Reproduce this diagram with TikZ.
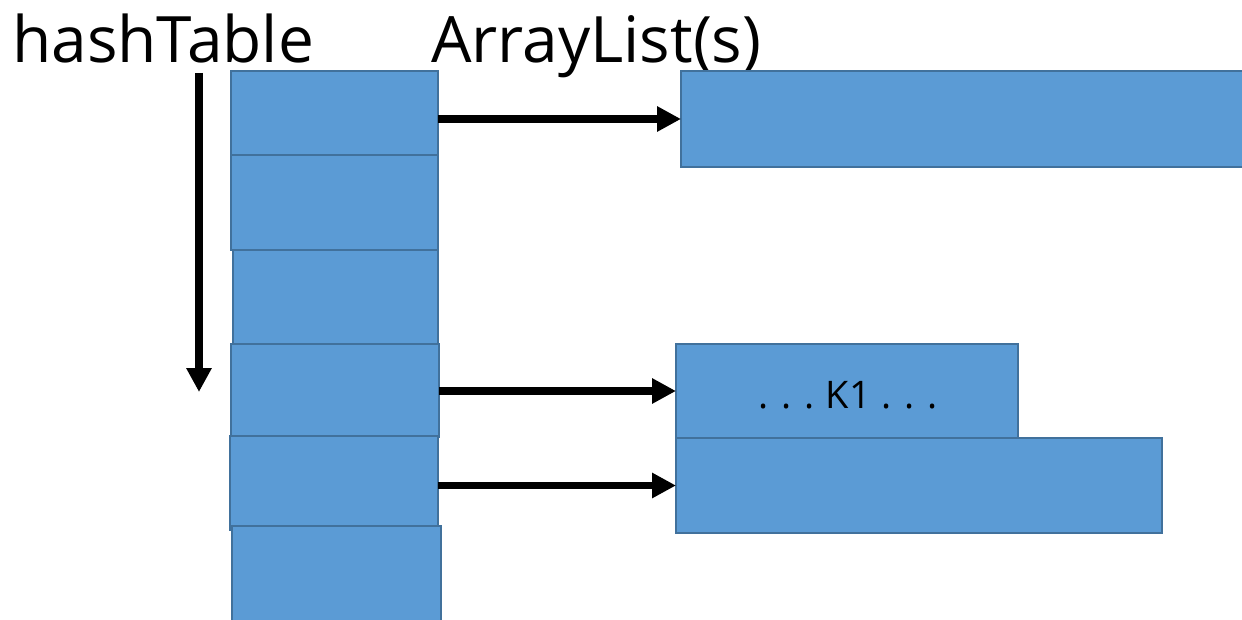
\documentclass[tikz,border=0pt]{standalone}
\usepackage{fontspec}
\setmainfont{Open Sans}
\usetikzlibrary{arrows.meta}
\definecolor{cellfill}{HTML}{5B9BD5}
\definecolor{celledge}{HTML}{41719C}
\tikzset{
  cell/.style={draw=celledge, fill=cellfill, line width=2pt, rectangle,
    inner sep=0pt, outer sep=0pt, anchor=north west},
  ptr/.style={line width=7.5pt, -{Triangle[length=24pt,width=24pt]}},
  title/.style={anchor=base west, inner sep=0pt, font=\fontsize{64}{70}\selectfont}
}
\begin{document}
\begin{tikzpicture}[x=1pt, y=-1pt]
\useasboundingbox (0,0) rectangle (1242,620);
\clip (0,0) rectangle (1242,620);

% headings
\node[title] (ht) at (12,63) {hashTable};
\node[title] (al) at (431,63) {ArrayList(s)};

% hash table buckets
\node[cell, minimum width=207pt, minimum height=84pt]  (h1) at (231,71)  {};
\node[cell, minimum width=207pt, minimum height=95pt]  (h2) at (231,155) {};
\node[cell, minimum width=205pt, minimum height=94pt]  (h3) at (233,250) {};
\node[cell, minimum width=208pt, minimum height=93pt]  (h4) at (231,344) {};
\node[cell, minimum width=208pt, minimum height=94pt]  (h5) at (230,436) {};
\node[cell, minimum width=209pt, minimum height=114pt] (h6) at (232,526) {};

% array lists
\node[cell, minimum width=600pt, minimum height=96pt] (la) at (681,71)  {};
\node[cell, minimum width=342pt, minimum height=94pt] (lb) at (676,344) {};
\node[cell, minimum width=486pt, minimum height=95pt] (lc) at (676,438) {};
\node[anchor=base, inner sep=0pt, font=\fontsize{38}{42}\selectfont] (k1) at (848,408)
  {.\hspace{13pt}.\hspace{13pt}.\hspace{11pt}K1\hspace{10pt}.\hspace{13pt}.\hspace{13pt}.};

% index direction
\coordinate (d0) at (199,73);
\coordinate (d1) at (199,392);
\draw[ptr] (d0) -- (d1);

% bucket pointers
\draw[ptr] (h1.east |- la.west) -- (la.west);
\draw[ptr] (h4.east |- lb.west) -- (lb.west);
\draw[ptr] (h5.east |- lc.west) -- (lc.west);
\end{tikzpicture}
\end{document}
